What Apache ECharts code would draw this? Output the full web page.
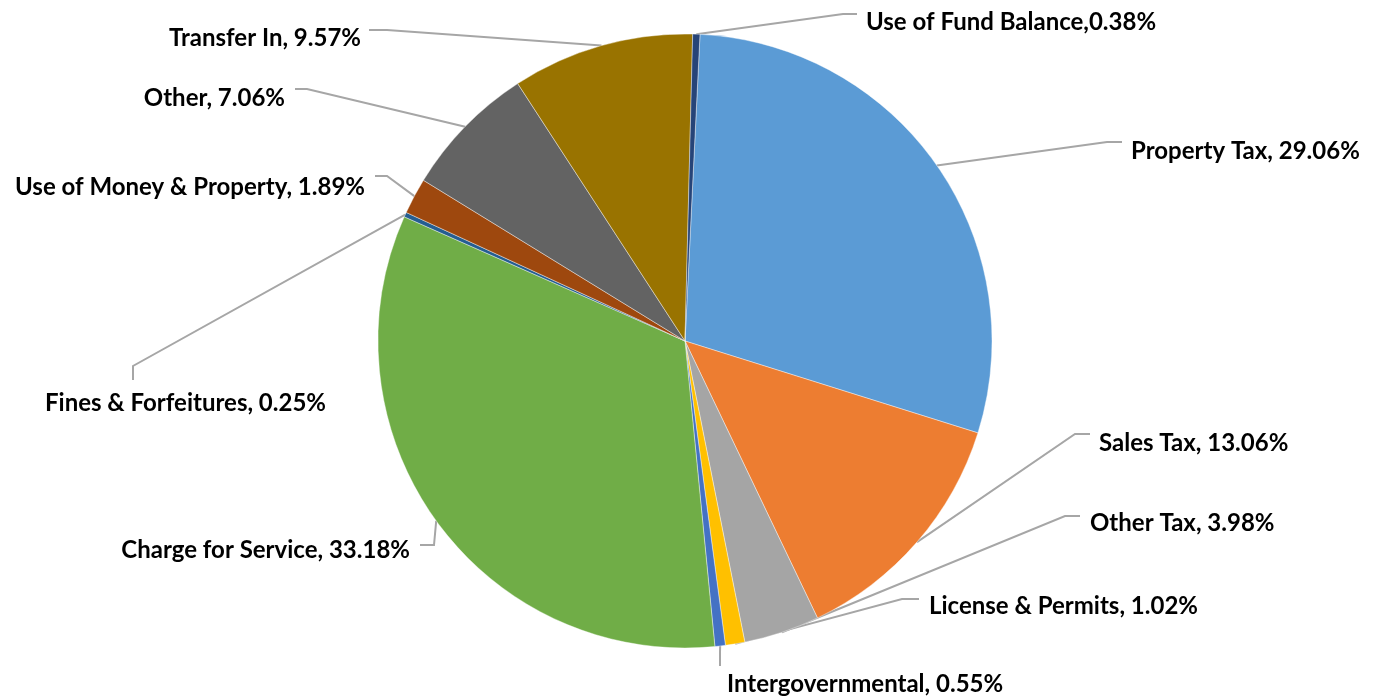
<!DOCTYPE html>
<html>
<head>
<meta charset="utf-8">
<title>Revenue by Source</title>
<script src="https://cdn.jsdelivr.net/npm/echarts@6/dist/echarts.min.js"></script>
<style>
  html, body { margin: 0; padding: 0; background: #fff; }
  #chart { width: 1379px; height: 696px; }
</style>
</head>
<body>
<div id="chart"></div>
<script>
// revenue sources, clockwise from the top
const categories = [
  'Property Tax', 'Sales Tax', 'Other Tax', 'License & Permits', 'Intergovernmental',
  'Charge for Service', 'Fines & Forfeitures', 'Use of Money & Property', 'Other',
  'Transfer In', 'Use of Fund Balance'
];
const shares = [29.06, 13.06, 3.98, 1.02, 0.55, 33.18, 0.25, 1.89, 7.06, 9.57, 0.38];

// office palette, one per slice
const colors = [
  '#5B9BD5', '#ED7D31', '#A5A5A5', '#FFC000', '#4472C4', '#70AD47',
  '#255E91', '#9E480E', '#636363', '#997300', '#264478'
];

// label placement: [x, y, align], leader elbow and end point
const labelPlace = [
  { at: [1131, 151, 'left'],  elbow: [1107, 142], end: [1122, 142] },
  { at: [1099, 443, 'left'],  elbow: [1075, 434], end: [1090, 434] },
  { at: [1090, 523, 'left'],  elbow: [1065, 516], end: [1080, 516] },
  { at: [929, 606, 'left'],   elbow: [902, 599],  end: [919, 599] },
  { at: [727, 684, 'left'],   elbow: [720, 652],  end: [720, 666] },
  { at: [410, 550, 'right'],  elbow: [434, 545],  end: [420, 545] },
  { at: [326, 403, 'right'],  elbow: [133, 366],  end: [133, 380] },
  { at: [365, 187, 'right'],  elbow: [387, 176],  end: [375, 176] },
  { at: [285, 98, 'right'],   elbow: [307, 89],   end: [295, 89] },
  { at: [361, 38, 'right'],   elbow: [387, 30],   end: [369, 30] },
  { at: [866, 22, 'left'],    elbow: [843, 14],   end: [857, 14] }
];

const chart = echarts.init(document.getElementById('chart'));

const option = {
  animation: false,
  color: colors,
  series: [
    {
      type: 'pie',
      center: [685, 341],
      radius: 307,
      startAngle: 87.2,
      clockwise: true,
      avoidLabelOverlap: false,
      itemStyle: {
        borderColor: '#ffffff',
        borderWidth: 0.4
      },
      label: {
        show: true,
        position: 'outside',
        color: '#000',
        fontFamily: 'Lato',
        fontWeight: 'bold',
        fontSize: 24,
        formatter: (p) => p.name + (p.dataIndex === 10 ? ',' : ', ') + p.value.toFixed(2) + '%'
      },
      labelLine: {
        show: true,
        smooth: false,
        lineStyle: { color: '#A6A6A6', width: 2 }
      },
      labelLayout: (params) => {
        const place = labelPlace[params.dataIndex];
        const start = params.labelLinePoints ? params.labelLinePoints[0] : place.elbow;
        return {
          x: place.at[0],
          y: place.at[1],
          align: place.at[2],
          verticalAlign: 'middle',
          labelLinePoints: [start, place.elbow, place.end]
        };
      },
      emphasis: { disabled: true },
      data: categories.map((name, i) => ({ name: name, value: shares[i] }))
    }
  ]
};

chart.setOption(option);
</script>
</body>
</html>
